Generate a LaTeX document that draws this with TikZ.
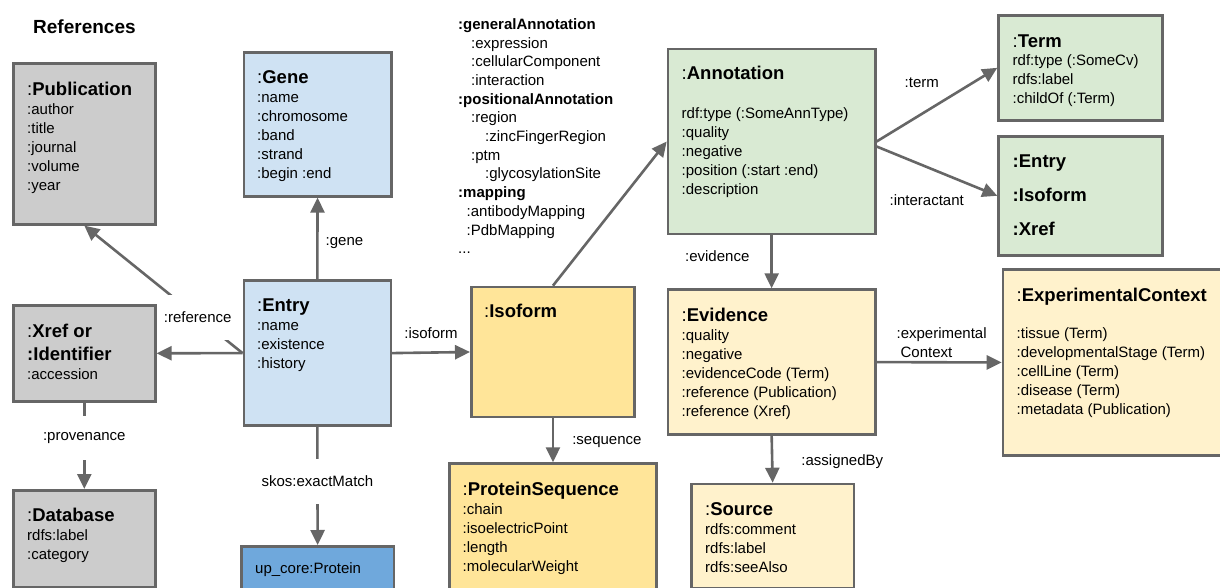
\documentclass[tikz,border=0pt]{standalone}
\usepackage{fontspec}
\setmainfont{Liberation Sans}
\usetikzlibrary{arrows.meta}
\definecolor{bord}{HTML}{666666}
\definecolor{cgray}{HTML}{CCCCCC}
\definecolor{cblue}{HTML}{CFE2F3}
\definecolor{cblued}{HTML}{6FA8DC}
\definecolor{cgreen}{HTML}{D9EAD3}
\definecolor{cyel}{HTML}{FFE599}
\definecolor{cyell}{HTML}{FFF2CC}
\newcommand{\ttl}[1]{{\fontsize{18.5}{19}\selectfont:\textbf{#1}}}
\newcommand{\bttl}[1]{{\fontsize{18.5}{19}\selectfont\textbf{#1}}}
\newcommand{\bx}[1]{\hbox{#1}}
\tikzset{
  box/.style={draw=bord, line width=2.6pt, anchor=north west, inner sep=0pt},
  txt/.style={anchor=base west, inner sep=0pt, font=\fontsize{15}{19}\selectfont},
  arr/.style={draw=bord, line width=2.6pt, -{Triangle[length=15pt,width=14pt]}},
  lbl/.style={inner sep=2pt, font=\fontsize{15}{19}\selectfont},
  lblw/.style={lbl, fill=white},
}
\begin{document}
\begin{tikzpicture}[x=1pt,y=-1pt]
\useasboundingbox (0,0) rectangle (1220,588);
\clip (0,0) rectangle (1220,588);

\node[anchor=base west, inner sep=0pt, font=\fontsize{19}{22}\selectfont\bfseries] (refs) at (33,33.8) {References};

% boxes
\node[box, fill=cgray, minimum width=142pt, minimum height=161pt] (pub) at (12,62) {};
\node[box, fill=cgray, minimum width=142pt, minimum height=96pt] (xref) at (12,304) {};
\node[box, fill=cgray, minimum width=142pt, minimum height=96.5pt] (db) at (12,489) {};
\node[box, fill=cblue, minimum width=147.5pt, minimum height=144pt] (gene) at (242.5,51) {};
\node[box, fill=cblue, minimum width=147pt, minimum height=145pt] (entry) at (242.5,279.3) {};
\node[box, fill=cblued, minimum width=152.7pt, minimum height=60pt] (upc) at (240,545) {};
\node[box, fill=cyel, minimum width=163.3pt, minimum height=130pt] (iso) at (470,285.7) {};
\node[box, fill=cyel, minimum width=206.7pt, minimum height=140pt] (ps) at (448.3,462.3) {};
\node[box, fill=cgreen, minimum width=207.3pt, minimum height=185pt] (ann) at (666.7,47.7) {};
\node[box, fill=cyell, minimum width=207.3pt, minimum height=145pt] (evi) at (666.7,288.3) {};
\node[box, fill=cyell, minimum width=162.7pt, minimum height=104.3pt] (src) at (690,482.7) {};
\node[box, fill=cgreen, minimum width=163.7pt, minimum height=105pt] (term) at (997.3,14) {};
\node[box, fill=cgreen, minimum width=163.7pt, minimum height=119pt] (eix) at (997.3,135) {};
\node[box, fill=cyell, minimum width=240pt, minimum height=185.7pt] (exp) at (1001.7,268.3) {};

% box texts
\node[txt] (pubT) at (27,95.6) {\vtop{\bx{\ttl{Publication}}\bx{:author}\bx{:title}\bx{:journal}\bx{:volume}\bx{:year}}};
\node[txt] (xrefT) at (27,337.6) {\vtop{\bx{\ttl{Xref or}}\vskip4pt\bx{\bttl{:Identifier}}\bx{:accession}}};
\node[txt] (dbT) at (27,521.6) {\vtop{\bx{\ttl{Database}}\bx{rdfs:label}\bx{:category}}};
\node[txt] (geneT) at (257,83.6) {\vtop{\bx{\ttl{Gene}}\bx{:name}\bx{:chromosome}\bx{:band}\bx{:strand}\bx{:begin :end}}};
\node[txt] (entryT) at (257,311.6) {\vtop{\bx{\ttl{Entry}}\bx{:name}\bx{:existence}\bx{:history}}};
\node[txt] (upcT) at (255,573.4) {up\_core:Protein};
\node[txt] (isoT) at (484,317.6) {\ttl{Isoform}};
\node[txt] (psT) at (462.5,495.6) {\vtop{\bx{\ttl{ProteinSequence}}\bx{:chain}\bx{:isoelectricPoint}\bx{:length}\bx{:molecularWeight}}};
\node[txt] (annT) at (681.5,79.6) {\vtop{\bx{\ttl{Annotation}}\vskip20pt\bx{rdf:type (:SomeAnnType)}\bx{:quality}\bx{:negative}\bx{:position (:start :end)}\bx{:description}}};
\node[txt] (eviT) at (681.5,321.6) {\vtop{\bx{\ttl{Evidence}}\bx{:quality}\bx{:negative}\bx{:evidenceCode (Term)}\bx{:reference (Publication)}\bx{:reference (Xref)}}};
\node[txt] (srcT) at (705,515.6) {\vtop{\bx{\ttl{Source}}\bx{rdfs:comment}\bx{rdfs:label}\bx{rdfs:seeAlso}}};
\node[txt] (termT) at (1012.5,47.6) {\vtop{\bx{\ttl{Term}}\vskip-1pt\bx{rdf:type (:SomeCv)}\bx{rdfs:label}\bx{:childOf (:Term)}}};
\node[txt] (eixT) at (1012.5,167.6) {\vtop{\bx{\bttl{:Entry}}\vskip15pt\bx{\bttl{:Isoform}}\vskip15pt\bx{\bttl{:Xref}}}};
\node[txt] (expT) at (1016.5,301.6) {\vtop{\bx{\ttl{ExperimentalContext}}\vskip18pt\bx{:tissue (Term)}\bx{:developmentalStage (Term)}\bx{:cellLine (Term)}\bx{:disease (Term)}\bx{:metadata (Publication)}}};

% annotation type list
\node[anchor=base west, inner sep=0pt, font=\fontsize{15}{18.7}\selectfont] (types) at (458,29.4) {\vtop{%
\bx{\textbf{:generalAnnotation}}%
\bx{\hspace*{13pt}:expression}%
\bx{\hspace*{13pt}:cellularComponent}%
\bx{\hspace*{13pt}:interaction}%
\bx{\textbf{:positionalAnnotation}}%
\bx{\hspace*{13pt}:region}%
\bx{\hspace*{27pt}:zincFingerRegion}%
\bx{\hspace*{13pt}:ptm}%
\bx{\hspace*{27pt}:glycosylationSite}%
\bx{\textbf{:mapping}}%
\bx{\hspace*{8.5pt}:antibodyMapping}%
\bx{\hspace*{8.5pt}:PdbMapping}%
\bx{...}}};

% connectors
\draw[arr] (entry.north) -- node[lbl, midway, anchor=west, xshift=5pt, yshift=-4.7pt] {:gene} (gene.south);
\draw[arr] (entry.west) -- node[lblw, pos=0.283, minimum height=45pt] {:reference} (pub.south);
\draw[arr] (entry.west) -- (xref.east);
\draw[arr] (xref.south) -- node[lblw, pos=0.41, minimum height=44pt] {:provenance} (db.north);
\draw[arr] (entry.south) -- node[lblw, pos=0.46, minimum height=45pt] {skos:exactMatch} (upc.north);
\draw[arr] (entry.east) -- node[lbl, midway, yshift=19.5pt] {:isoform} (iso.west);
\draw[arr] (iso.north) -- (ann.west);
\draw[arr] (iso.south) -- node[lbl, midway, anchor=west, xshift=16pt, yshift=-2pt] {:sequence} (ps.north);
\draw[arr] (ann.east) -- node[lbl, pos=0.374, yshift=31.5pt] {:term} (term.west);
\draw[arr] ([yshift=-5pt]ann.east) -- node[lbl, pos=0.415, yshift=-33.5pt] {:interactant} (eix.west);
\draw[arr] (ann.south) -- node[lbl, midway, anchor=east, xshift=-19pt, yshift=5.5pt] {:evidence} (evi.north);
\draw[arr] (evi.east) -- node[lbl, pos=0, anchor=west, xshift=16.7pt, yshift=19pt, align=left] {:experimental\\\hspace*{4pt}Context} (exp.west);
\draw[arr] (evi.south) -- node[lbl, midway, anchor=west, xshift=26pt, yshift=-2pt] {:assignedBy} (src.north);
\end{tikzpicture}
\end{document}
